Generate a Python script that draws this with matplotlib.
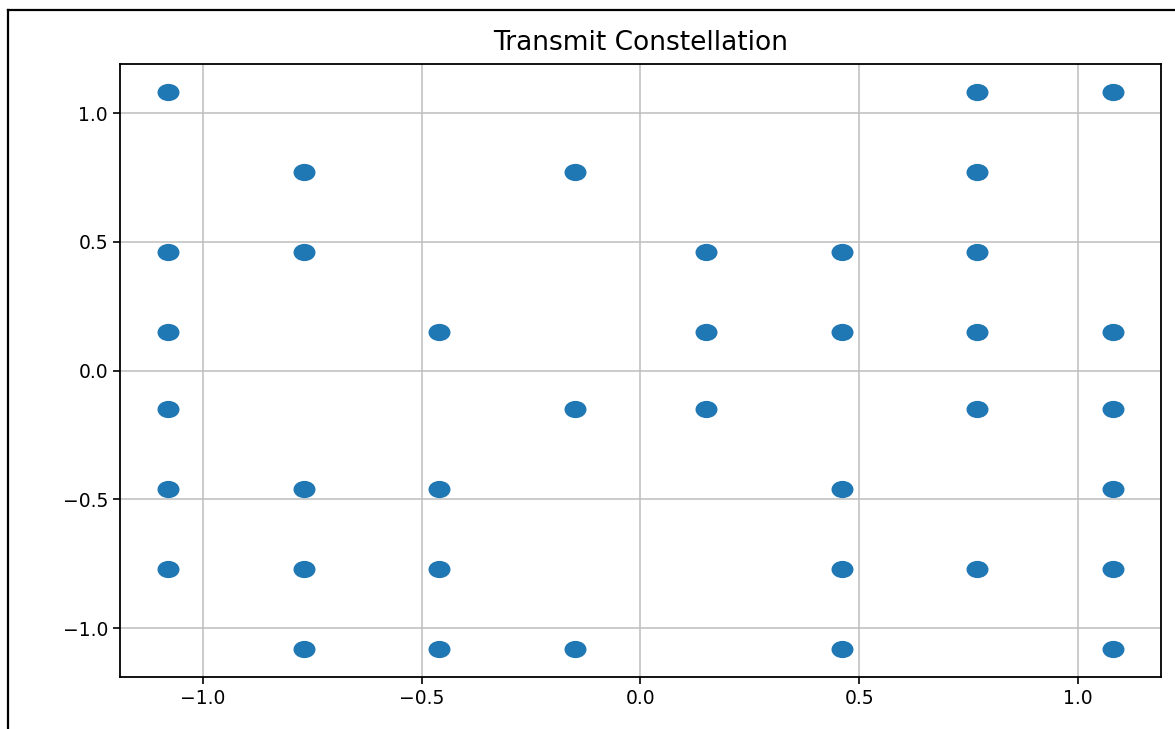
import matplotlib.pyplot as plt
from matplotlib.markers import MarkerStyle
from matplotlib.transforms import Affine2D
from matplotlib.lines import Line2D

# 64-QAM levels (normalised by sqrt(42))
levels = [-1.08, -0.77, -0.46, -0.15, 0.15, 0.46, 0.77, 1.08]

# transmitted symbols read row by row (y level -> x levels present)
rows = {
    1.08: [-1.08, 0.77, 1.08],
    0.77: [-0.77, -0.15, 0.77],
    0.46: [-1.08, -0.77, 0.15, 0.46, 0.77],
    0.15: [-1.08, -0.46, 0.15, 0.46, 0.77, 1.08],
    -0.15: [-1.08, -0.15, 0.15, 0.77, 1.08],
    -0.46: [-1.08, -0.77, -0.46, 0.46, 1.08],
    -0.77: [-1.08, -0.77, -0.46, 0.46, 0.77, 1.08],
    -1.08: [-0.77, -0.46, -0.15, 0.46, 1.08],
}

xs = [x for y, row in rows.items() for x in row]
ys = [y for y, row in rows.items() for x in row]

fig = plt.figure(figsize=(11.75, 7.29), dpi=100)
ax = fig.add_axes([0.102, 0.071, 0.886, 0.841])

# the original picture is stretched sideways, so the dots are ellipses
marker = MarkerStyle("o", transform=Affine2D().scale(1.3, 1.0))
ax.scatter(xs, ys, s=130, marker=marker, color="#1f77b4", zorder=3)

ax.set_xlim(-1.19, 1.19)
ax.set_ylim(-1.19, 1.19)
ax.set_xticks([-1.0, -0.5, 0.0, 0.5, 1.0])
ax.set_yticks([-1.0, -0.5, 0.0, 0.5, 1.0])
ax.tick_params(labelsize=13.5, length=5, width=1.2)
ax.set_title("Transmit Constellation", fontsize=19, pad=10)
ax.grid(True, color="#bdbdbd", linewidth=1.1)
for sp in ax.spines.values():
    sp.set_linewidth(1.3)

# screenshot frame around the figure (open on the right and bottom)
W, H = 1175, 729
frame = dict(color="black", linewidth=1.6, transform=fig.transFigure)
fig.add_artist(Line2D([8 / W, 8 / W], [0, 1 - 10 / H], **frame))
fig.add_artist(Line2D([8 / W, 1], [1 - 10 / H, 1 - 10 / H], **frame))

fig.savefig("out.png", dpi=100)
plt.close(fig)
